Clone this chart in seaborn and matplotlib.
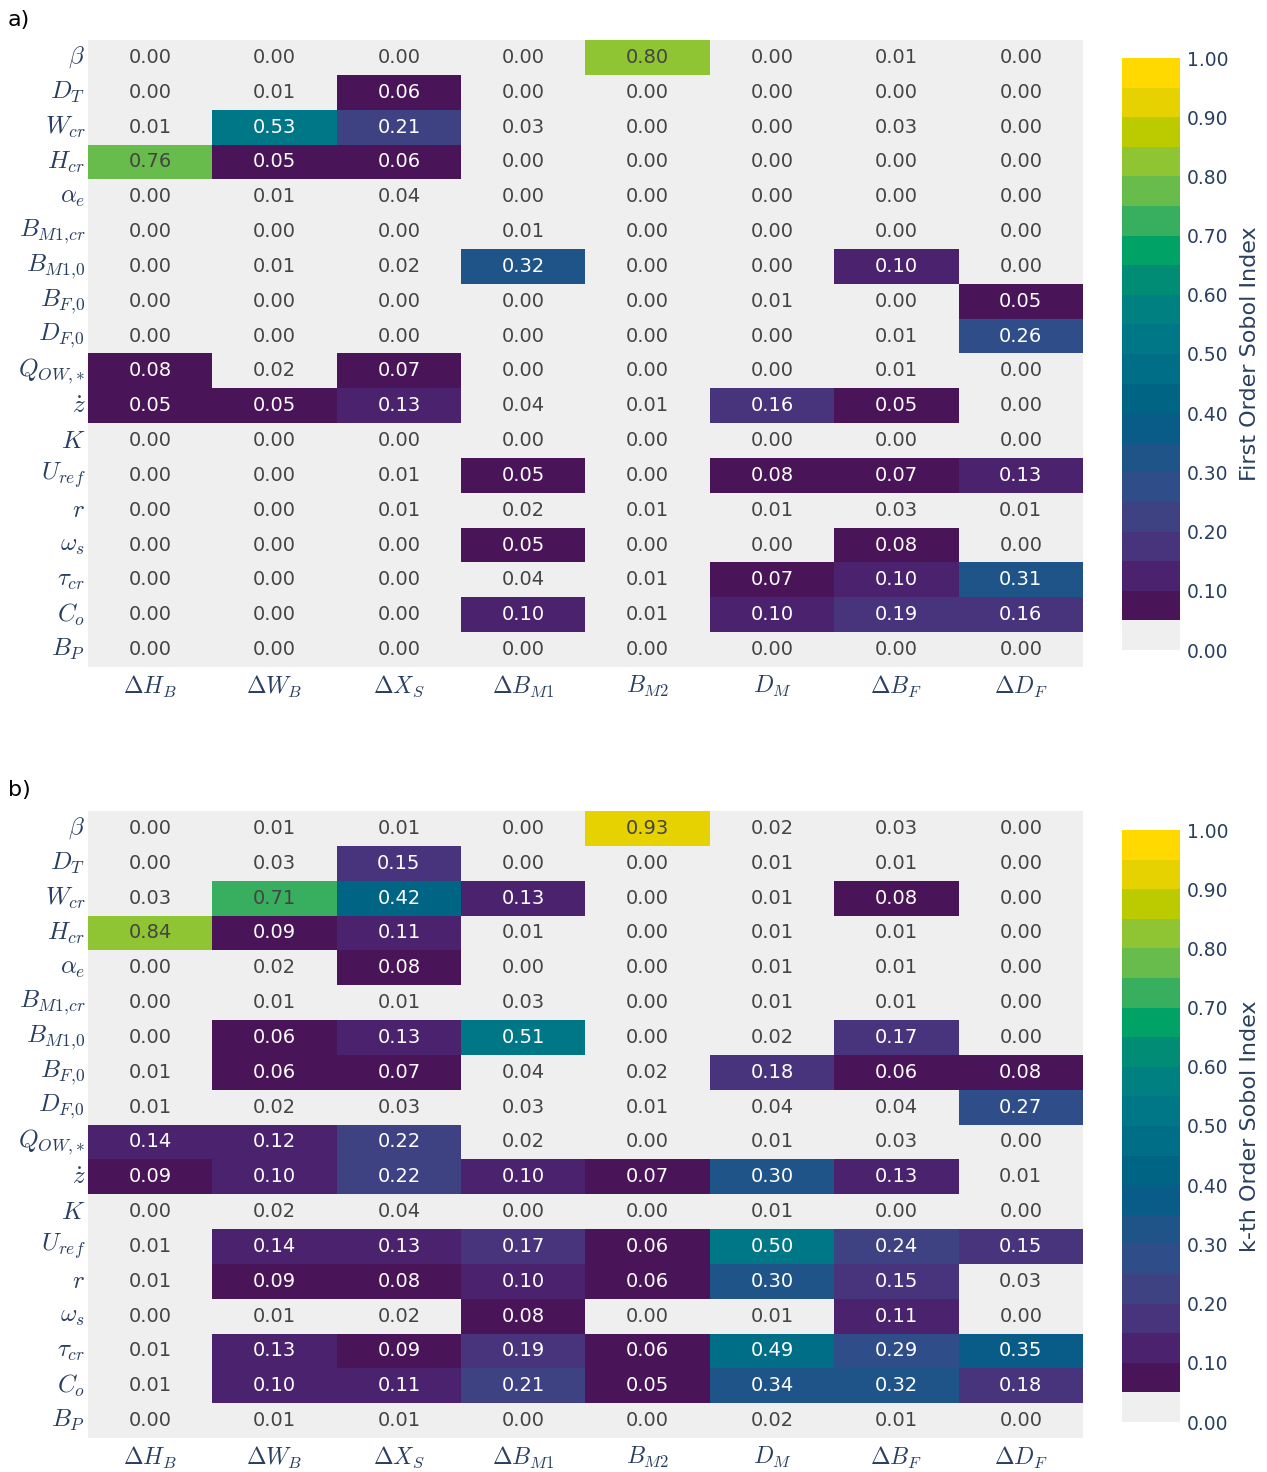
import numpy as np
import pandas as pd
import matplotlib
matplotlib.use("Agg")
import matplotlib.pyplot as plt
import seaborn as sns
from matplotlib.colors import ListedColormap, BoundaryNorm

# ---------------- data ----------------
row_labels = [r"$\beta$", r"$D_T$", r"$W_{cr}$", r"$H_{cr}$", r"$\alpha_e$",
              r"$B_{M1{,}cr}$", r"$B_{M1{,}0}$", r"$B_{F{,}0}$", r"$D_{F{,}0}$",
              r"$Q_{OW{,}*}$", r"$\dot{z}$", r"$K$", r"$U_{ref}$", r"$r$",
              r"$\omega_s$", r"$\tau_{cr}$", r"$C_o$", r"$B_P$"]
col_labels = [r"$\Delta H_B$", r"$\Delta W_B$", r"$\Delta X_S$", r"$\Delta B_{M1}$",
              r"$B_{M2}$", r"$D_M$", r"$\Delta B_F$", r"$\Delta D_F$"]

first_order = [
    [0.00, 0.00, 0.00, 0.00, 0.80, 0.00, 0.01, 0.00],
    [0.00, 0.01, 0.06, 0.00, 0.00, 0.00, 0.00, 0.00],
    [0.01, 0.53, 0.21, 0.03, 0.00, 0.00, 0.03, 0.00],
    [0.76, 0.05, 0.06, 0.00, 0.00, 0.00, 0.00, 0.00],
    [0.00, 0.01, 0.04, 0.00, 0.00, 0.00, 0.00, 0.00],
    [0.00, 0.00, 0.00, 0.01, 0.00, 0.00, 0.00, 0.00],
    [0.00, 0.01, 0.02, 0.32, 0.00, 0.00, 0.10, 0.00],
    [0.00, 0.00, 0.00, 0.00, 0.00, 0.01, 0.00, 0.05],
    [0.00, 0.00, 0.00, 0.00, 0.00, 0.00, 0.01, 0.26],
    [0.08, 0.02, 0.07, 0.00, 0.00, 0.00, 0.01, 0.00],
    [0.05, 0.05, 0.13, 0.04, 0.01, 0.16, 0.05, 0.00],
    [0.00, 0.00, 0.00, 0.00, 0.00, 0.00, 0.00, 0.00],
    [0.00, 0.00, 0.01, 0.05, 0.00, 0.08, 0.07, 0.13],
    [0.00, 0.00, 0.01, 0.02, 0.01, 0.01, 0.03, 0.01],
    [0.00, 0.00, 0.00, 0.05, 0.00, 0.00, 0.08, 0.00],
    [0.00, 0.00, 0.00, 0.04, 0.01, 0.07, 0.10, 0.31],
    [0.00, 0.00, 0.00, 0.10, 0.01, 0.10, 0.19, 0.16],
    [0.00, 0.00, 0.00, 0.00, 0.00, 0.00, 0.00, 0.00],
]

kth_order = [
    [0.00, 0.01, 0.01, 0.00, 0.93, 0.02, 0.03, 0.00],
    [0.00, 0.03, 0.15, 0.00, 0.00, 0.01, 0.01, 0.00],
    [0.03, 0.71, 0.42, 0.13, 0.00, 0.01, 0.08, 0.00],
    [0.84, 0.09, 0.11, 0.01, 0.00, 0.01, 0.01, 0.00],
    [0.00, 0.02, 0.08, 0.00, 0.00, 0.01, 0.01, 0.00],
    [0.00, 0.01, 0.01, 0.03, 0.00, 0.01, 0.01, 0.00],
    [0.00, 0.06, 0.13, 0.51, 0.00, 0.02, 0.17, 0.00],
    [0.01, 0.06, 0.07, 0.04, 0.02, 0.18, 0.06, 0.08],
    [0.01, 0.02, 0.03, 0.03, 0.01, 0.04, 0.04, 0.27],
    [0.14, 0.12, 0.22, 0.02, 0.00, 0.01, 0.03, 0.00],
    [0.09, 0.10, 0.22, 0.10, 0.07, 0.30, 0.13, 0.01],
    [0.00, 0.02, 0.04, 0.00, 0.00, 0.01, 0.00, 0.00],
    [0.01, 0.14, 0.13, 0.17, 0.06, 0.50, 0.24, 0.15],
    [0.01, 0.09, 0.08, 0.10, 0.06, 0.30, 0.15, 0.03],
    [0.00, 0.01, 0.02, 0.08, 0.00, 0.01, 0.11, 0.00],
    [0.01, 0.13, 0.09, 0.19, 0.06, 0.49, 0.29, 0.35],
    [0.01, 0.10, 0.11, 0.21, 0.05, 0.34, 0.32, 0.18],
    [0.00, 0.01, 0.01, 0.00, 0.00, 0.02, 0.01, 0.00],
]

cbar_titles = ["First Order Sobol Index", "k-th Order Sobol Index"]
panel_tags = ["a)", "b)"]
cbar_ticks = [0.0, 0.1, 0.2, 0.3, 0.4, 0.5, 0.6, 0.7, 0.8, 0.9, 1.0]

# ---------------- style ----------------
bin_colors = ["#efefef",
              "#4a1459", "#4b226d", "#47347c", "#3f4282", "#2f4d89",
              "#1f5488", "#0a5c88", "#006585", "#006e86", "#007786",
              "#008081", "#008c75", "#00a266", "#37af5e", "#68bc4b",
              "#8fc433", "#bccb00", "#e6d200", "#ffd900"]
cmap = ListedColormap(bin_colors)
bounds = np.linspace(0, 1, 21)
bounds[1:-1] -= 1e-6
norm = BoundaryNorm(bounds, cmap.N)

LABEL_C = "#2a3f5f"
TEXT_DARK = "#444444"

plt.rcParams["mathtext.fontset"] = "cm"
plt.rcParams["font.family"] = ["DejaVu Sans"]

W, H = 1267, 1472
fig = plt.figure(figsize=(W / 100, H / 100), dpi=100)

def fx(px):
    return px / W

def fy(py):
    return 1 - py / H

panels = [
    (first_order, 40, 667, 58, 650, 20),
    (kth_order, 811, 1438, 830, 1422, 790),
]

for i, (vals, top, bot, ctop, cbot, tag_y) in enumerate(panels):
    df = pd.DataFrame(vals, index=row_labels, columns=col_labels)
    ax = fig.add_axes([fx(88), fy(bot), fx(1083) - fx(88), (bot - top) / H])
    cax = fig.add_axes([fx(1122), fy(cbot), fx(1180) - fx(1122), (cbot - ctop) / H])
    sns.heatmap(df, ax=ax, cmap=cmap, norm=norm, annot=True, fmt=".2f",
                annot_kws={"fontsize": 14}, cbar_ax=cax,
                cbar_kws={"ticks": cbar_ticks}, linewidths=0)
    for t in ax.texts:
        v = float(t.get_text())
        if v < 0.05 - 1e-9 or v >= 0.65 - 1e-9:
            t.set_color(TEXT_DARK)
        else:
            t.set_color("white")
    ax.tick_params(axis="both", length=0)
    ax.set_yticklabels(row_labels, rotation=0, fontsize=18, color=LABEL_C)
    ax.set_xticklabels(col_labels, rotation=0, fontsize=17, color=LABEL_C)
    ax.tick_params(axis="y", pad=2)
    ax.tick_params(axis="x", pad=5)
    ax.set_xlabel("")
    ax.set_ylabel("")

    cbar = ax.collections[0].colorbar
    cbar.outline.set_visible(False)
    cbar.ax.minorticks_off()
    cbar.ax.tick_params(which="both", length=0, pad=5, labelsize=13.5,
                        labelcolor=LABEL_C)
    cbar.ax.set_yticks(cbar_ticks)
    cbar.ax.set_yticklabels([f"{t:.2f}" for t in cbar_ticks])
    cbar.set_label(cbar_titles[i], fontsize=16, color=LABEL_C, labelpad=8)

    fig.text(fx(8), fy(tag_y), panel_tags[i], fontsize=16, color="black",
             ha="left", va="center")

fig.savefig("out.png", dpi=100)
